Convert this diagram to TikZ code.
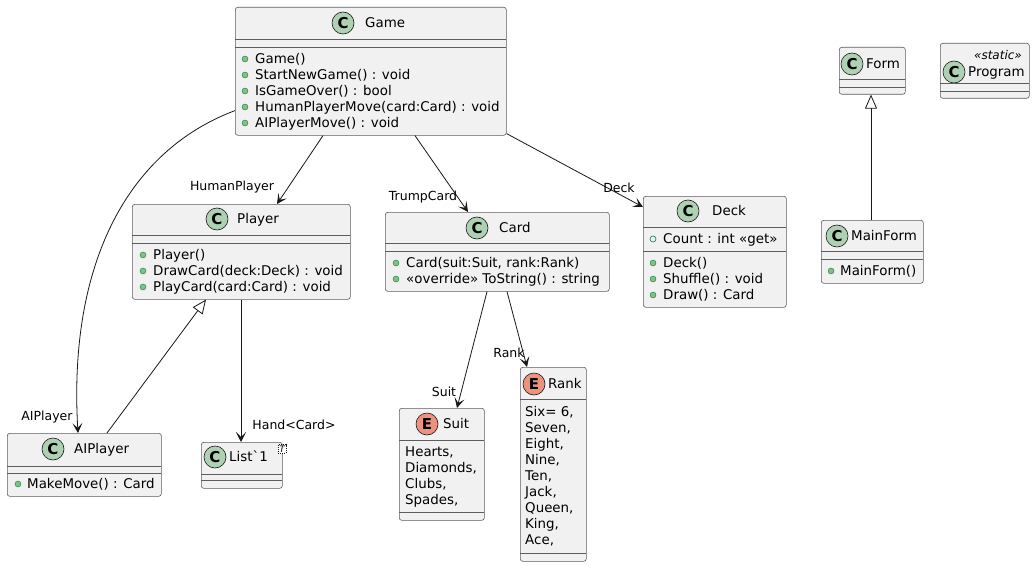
\documentclass[tikz,border=0pt]{standalone}
\usepackage{fontspec}
\setmainfont{DejaVu Sans}
\usetikzlibrary{calc,arrows.meta}

\definecolor{boxfill}{HTML}{F1F1F1}
\definecolor{boxline}{HTML}{181818}
\definecolor{classicon}{HTML}{ADD1B2}
\definecolor{enumicon}{HTML}{EB937F}
\definecolor{pubfill}{HTML}{84BE84}
\definecolor{publine}{HTML}{038048}

\tikzset{
  classbox/.style={draw=boxline!70, fill=boxfill, rounded corners=2.5pt, line width=0.6pt, anchor=north west, inner sep=0pt},
  sepline/.style={draw=boxline!70, line width=0.6pt},
  cicon/.style={circle, draw=boxline, fill=classicon, minimum size=22pt, inner sep=0pt, line width=0.6pt, font=\fontsize{15}{15}\selectfont\bfseries},
  eicon/.style={cicon, fill=enumicon},
  title/.style={anchor=west, inner sep=0pt, text height=11pt, text depth=2pt, font=\fontsize{13.4}{16}\selectfont},
  member/.style={title},
  pub/.style={circle, fill=pubfill, draw=publine, minimum size=6pt, inner sep=0pt, line width=0.4pt},
  field/.style={circle, draw=publine, minimum size=6pt, inner sep=0pt, line width=0.6pt},
  rolelabel/.style={inner sep=0pt, font=\fontsize{12.5}{14}\selectfont},
  assoc/.style={draw=boxline, line width=0.8pt, -{Stealth[length=10pt,width=10pt,inset=5pt]}},
  extends/.style={draw=boxline, line width=0.8pt, -{Triangle[length=14pt,width=12pt,fill=white]}},
}

\begin{document}
\begin{tikzpicture}[x=1pt,y=-1pt]
  \fill[white] (0,0) rectangle (1035,567);
  \useasboundingbox (0,0) rectangle (1035,567);

  % Game
  \node[classbox, minimum width=271, minimum height=128] (game) at (235,7) {};
  \node[cicon] (gameicon) at (343,23) {C};
  \node[title] (gamename) at (365,23) {Game};
  \draw[sepline] (235,39) -- (506,39);
  \draw[sepline] (235,47) -- (506,47);
  \foreach \y/\m in {59/Game(), 75/StartNewGame() : void, 91/IsGameOver() : bool,
                     107/HumanPlayerMove(card:Card) : void, 123/AIPlayerMove() : void}
  {
    \node[pub] (gamedot\y) at (245,\y) {};
    \node[member] (gamem\y) at (255,\y) {\m};
  }

  % Player
  \node[classbox, minimum width=218, minimum height=95] (player) at (132,204) {};
  \node[cicon] (playericon) at (217,219) {C};
  \node[title] (playername) at (237,219) {Player};
  \draw[sepline] (132,235) -- (350,235);
  \draw[sepline] (132,243) -- (350,243);
  \foreach \y/\m in {255/Player(), 271/DrawCard(deck:Deck) : void, 287/PlayCard(card:Card) : void}
  {
    \node[pub] (playerdot\y) at (143,\y) {};
    \node[member] (playerm\y) at (153,\y) {\m};
  }

  % Card
  \node[classbox, minimum width=224, minimum height=79] (card) at (385,212) {};
  \node[cicon] (cardicon) at (477,228) {C};
  \node[title] (cardname) at (499,228) {Card};
  \draw[sepline] (385,243) -- (609,243);
  \draw[sepline] (385,251) -- (609,251);
  \foreach \y/\m in {263/{Card(suit:Suit, rank:Rank)}, 279/«override» ToString() : string}
  {
    \node[pub] (carddot\y) at (396,\y) {};
    \node[member] (cardm\y) at (406,\y) {\m};
  }

  % Deck
  \node[classbox, minimum width=143, minimum height=111] (deck) at (643,196) {};
  \node[cicon] (deckicon) at (688,211) {C};
  \node[title] (deckname) at (712,211) {Deck};
  \draw[sepline] (643,227) -- (786,227);
  \draw[sepline] (643,251) -- (786,251);
  \node[field] (deckdot239) at (653,239) {};
  \node[member] (deckm239) at (663,239) {Count : int «get»};
  \foreach \y/\m in {263/Deck(), 279/Shuffle() : void, 295/Draw() : Card}
  {
    \node[pub] (deckdot\y) at (653,\y) {};
    \node[member] (deckm\y) at (663,\y) {\m};
  }

  % Form
  \node[classbox, minimum width=66, minimum height=47] (form) at (839,47) {};
  \node[cicon] (formicon) at (852,64) {C};
  \node[title] (formname) at (866,64) {Form};
  \draw[sepline] (839,79) -- (905,79);
  \draw[sepline] (839,87) -- (905,87);

  % Program
  \node[classbox, minimum width=89, minimum height=55] (program) at (940,43) {};
  \node[cicon] (programicon) at (954,72) {C};
  \node[inner sep=0pt, font=\fontsize{12}{12}\selectfont\itshape] (programstereo) at (998,55) {«static»};
  \node[title] (programname) at (968,72) {Program};
  \draw[sepline] (940,83) -- (1029,83);
  \draw[sepline] (940,91) -- (1029,91);

  % MainForm
  \node[classbox, minimum width=102, minimum height=63] (mainform) at (821,220) {};
  \node[cicon] (mainformicon) at (837,236) {C};
  \node[title] (mainformname) at (851,236) {MainForm};
  \draw[sepline] (821,251) -- (923,251);
  \draw[sepline] (821,259) -- (923,259);
  \node[pub] (mainformdot) at (831,271) {};
  \node[member] (mainformm) at (840,271) {MainForm()};

  % AIPlayer
  \node[classbox, minimum width=154, minimum height=63] (aiplayer) at (7,433) {};
  \node[cicon] (aiplayericon) at (53,449) {C};
  \node[title] (aiplayername) at (74,449) {AIPlayer};
  \draw[sepline] (7,466) -- (161,466);
  \draw[sepline] (7,473) -- (161,473);
  \node[pub] (aiplayerdot) at (18,484) {};
  \node[member] (aiplayerm) at (27,484) {MakeMove() : Card};

  % List`1
  \node[classbox, minimum width=81, minimum height=46] (list) at (201,442) {};
  \node[cicon] (listicon) at (215,457) {C};
  \node[title] (listname) at (229,457) {List\textasciigrave 1};
  \draw[sepline] (201,474) -- (282,474);
  \draw[sepline] (201,480) -- (282,480);
  \node[draw=boxline, dash pattern=on 1pt off 1pt, line width=0.5pt, fill=white, inner sep=1pt,
        font=\fontsize{9}{9}\selectfont\itshape] (listtpl) at (282,449) {T};

  % Suit
  \node[classbox, minimum width=85, minimum height=112] (suit) at (399,408) {};
  \node[eicon] (suiticon) at (427,424) {E};
  \node[title] (suitname) at (443,424) {Suit};
  \draw[sepline] (399,440) -- (484,440);
  \draw[sepline] (399,512) -- (484,512);
  \foreach \y/\m in {452/{Hearts,}, 468/{Diamonds,}, 484/{Clubs,}, 500/{Spades,}}
    \node[member] (suitm\y) at (405,\y) {\m};

  % Rank
  \node[classbox, minimum width=66, minimum height=194] (rank) at (520,367) {};
  \node[eicon] (rankicon) at (534,384) {E};
  \node[title] (rankname) at (548,384) {Rank};
  \draw[sepline] (520,399) -- (586,399);
  \draw[sepline] (520,553) -- (586,553);
  \foreach \y/\m in {412/{Six= 6,}, 428/{Seven,}, 444/{Eight,}, 460/{Nine,}, 476/{Ten,},
                     492/{Jack,}, 508/{Queen,}, 524/{King,}, 540/{Ace,}}
    \node[member] (rankm\y) at (525,\y) {\m};

  % connectors
  \draw[assoc] ($(game.south west)+(88,0)$) -- ($(player.north west)+(145,0)$);
  \draw[assoc] ($(game.south west)+(180,0)$) -- ($(card.north west)+(83,0)$);
  \draw[assoc] ($(game.south east)+(0,-2)$) -- ($(deck.north west)+(0,11)$);
  \draw[assoc] ($(game.south west)+(0,-25)$) .. controls (130,150) and (68,260) .. ($(aiplayer.north west)+(71,0)$);
  \draw[assoc] ($(player.south west)+(109,0)$) -- ($(list.north west)+(40,0)$);
  \draw[assoc] ($(card.south west)+(102,0)$) -- ($(suit.north west)+(58,0)$);
  \draw[assoc] ($(card.south west)+(122,0)$) -- ($(rank.north west)+(7,0)$);
  \draw[extends] ($(aiplayer.north west)+(100,0)$) -- ($(player.south west)+(74,0)$);
  \draw[extends] ($(mainform.north west)+(50,0)$) -- ($(form.south west)+(32,0)$);

  % role labels
  \node[rolelabel] (lblhuman) at (232,187) {HumanPlayer};
  \node[rolelabel] (lbltrump) at (423,197) {TrumpCard};
  \node[rolelabel] (lbldeck) at (619,188) {Deck};
  \node[rolelabel] (lblai) at (47,417) {AIPlayer};
  \node[rolelabel] (lblhand) at (294,425) {Hand<Card>};
  \node[rolelabel] (lblsuit) at (444,392) {Suit};
  \node[rolelabel] (lblrank) at (509,353) {Rank};
\end{tikzpicture}
\end{document}
